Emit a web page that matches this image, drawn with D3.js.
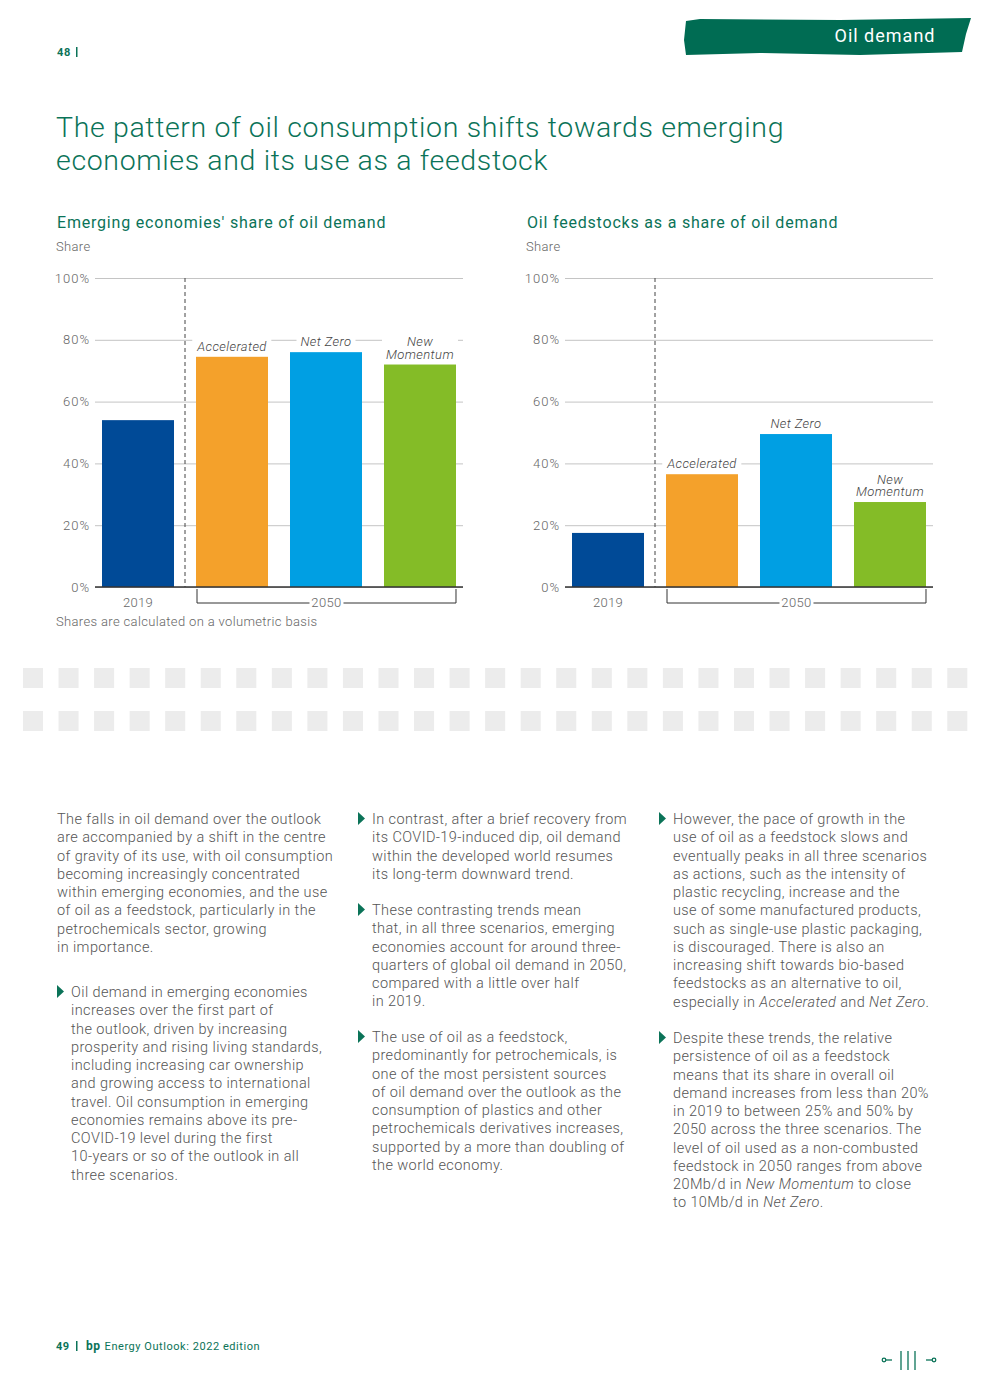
<!DOCTYPE html>
<html lang="en">
<head>
<meta charset="utf-8">
<title>Oil demand</title>
<script src="https://cdn.jsdelivr.net/npm/d3@7"></script>
<style>
  body { margin: 0; background: #fff; }
  svg { display: block; font-family: Roboto, "Open Sans", sans-serif; }
  .tick-label { font-size: 13px; fill: #666; font-weight: 300; letter-spacing: 0.35px; }
  .body-text { font-size: 14.5px; fill: #555; font-weight: 300; letter-spacing: 0.4px; }
</style>
</head>
<body>
<script>
// data
var categories = ["2019", "Accelerated", "Net Zero", "New Momentum"];
var emergingShare = [54, 74.5, 76, 72];
var feedstockShare = [17.5, 36.5, 49.5, 27.5];
var yTicks = [0, 20, 40, 60, 80, 100];
var barColors = ["#004a97", "#f4a12b", "#009fe3", "#84bc27"];
var scenarioLabels = [null, ["Accelerated"], ["Net Zero"], ["New", "Momentum"]];

var green = "#0b7358";
var W = 992, H = 1398;

var svg = d3.select("body").append("svg")
  .attr("width", W).attr("height", H);

// header tab
svg.append("path")
  .attr("d", "M686,21 L700,19 L840,20 L971,18 L966,34 L962,52 L860,55 L760,53 L686,55 L684,40 Z")
  .attr("fill", "#006c53");
svg.append("text").attr("x", 885).attr("y", 42).attr("text-anchor", "middle")
  .attr("fill", "#fff").style("font-size", "18px").style("letter-spacing", "1px").text("Oil demand");

svg.append("text").attr("x", 57).attr("y", 56).attr("fill", green)
  .style("font-size", "11px").style("font-weight", "bold").style("letter-spacing", "0.6px").text("48");
svg.append("rect").attr("x", 76).attr("y", 47).attr("width", 1.5).attr("height", 10).attr("fill", green);

// title
svg.append("text").attr("fill", green).style("font-size", "28.5px").style("font-weight", 300)
  .style("letter-spacing", "0.65px")
  .selectAll("tspan")
  .data(["The pattern of oil consumption shifts towards emerging", "economies and its use as a feedstock"])
  .enter().append("tspan")
  .attr("x", 56).attr("y", function (d, i) { return 137 + i * 33; })
  .text(function (d) { return d; });

// charts
function drawChart(ox, title, values, note) {
  var g = svg.append("g").attr("transform", "translate(" + ox + ",0)");
  var y = d3.scaleLinear().domain([0, 100]).range([587, 278]);
  var x = d3.scaleBand().domain(categories).range([95, 463])
    .paddingInner(0.234).paddingOuter(0.0745);

  g.append("text").attr("x", 57).attr("y", 228).attr("fill", green)
    .style("font-size", "16px").style("letter-spacing", "0.8px").text(title);
  g.append("text").attr("x", 56).attr("y", 251).attr("class", "tick-label").text("Share");

  var yAxis = d3.axisLeft(y).tickValues(yTicks)
    .tickFormat(function (d) { return d + "%"; })
    .tickSize(-368).tickPadding(5);
  var ax = g.append("g").attr("transform", "translate(95,0)").call(yAxis);
  ax.select(".domain").remove();
  ax.selectAll(".tick line").attr("stroke", "#c4c4c4").attr("stroke-width", 1);
  ax.selectAll(".tick text").attr("class", "tick-label").attr("fill", "#666")
    .style("font-family", "Roboto, sans-serif").style("letter-spacing", "1px");

  // dashed separator
  var sepX = (x("2019") + x.bandwidth() + x("Accelerated")) / 2;
  g.append("line").attr("x1", sepX).attr("x2", sepX).attr("y1", y(100)).attr("y2", y(0))
    .attr("stroke", "#444").attr("stroke-dasharray", "4,3").attr("stroke-width", 1);

  // scenario labels with white background
  var labels = g.append("g");
  g.selectAll(".bar").data(values).enter().append("rect")
    .attr("class", "bar")
    .attr("x", function (d, i) { return x(categories[i]); })
    .attr("y", function (d) { return y(d); })
    .attr("width", x.bandwidth())
    .attr("height", function (d) { return y(0) - y(d); })
    .attr("fill", function (d, i) { return barColors[i]; });

  values.forEach(function (v, i) {
    var lines = scenarioLabels[i];
    if (!lines) return;
    var cx = x(categories[i]) + x.bandwidth() / 2;
    var base = y(v) - 6;
    var t = labels.append("text").attr("text-anchor", "middle")
      .attr("fill", "#444").style("font-size", "13px").style("font-style", "italic")
      .style("font-weight", 300).style("letter-spacing", "0.4px");
    lines.forEach(function (l, j) {
      t.append("tspan").attr("x", cx)
        .attr("y", base - (lines.length - 1 - j) * 12.5).text(l);
    });
    var bb = t.node().getBBox();
    labels.insert("rect", "text").attr("x", bb.x - 4).attr("y", bb.y)
      .attr("width", bb.width + 8).attr("height", bb.height).attr("fill", "#fff");
  });

  // baseline
  g.append("line").attr("x1", 95).attr("x2", 463).attr("y1", y(0)).attr("y2", y(0))
    .attr("stroke", "#333").attr("stroke-width", 1.6);

  // x labels
  g.append("text").attr("class", "tick-label").attr("text-anchor", "middle")
    .attr("x", x("2019") + x.bandwidth() / 2).attr("y", 607).text("2019");
  var bx0 = x("Accelerated") + 1, bx1 = x("New Momentum") + x.bandwidth(), mid = (bx0 + bx1) / 2;
  g.append("path")
    .attr("d", "M" + bx0 + ",589V603H" + (mid - 17) + "M" + (mid + 17) + ",603H" + bx1 + "V589")
    .attr("fill", "none").attr("stroke", "#333").attr("stroke-width", 1);
  g.append("text").attr("class", "tick-label").attr("text-anchor", "middle")
    .attr("x", mid).attr("y", 607).text("2050");

  if (note) {
    g.append("text").attr("class", "tick-label").attr("x", 56).attr("y", 626).text(note);
  }
}

drawChart(0, "Emerging economies' share of oil demand", emergingShare, "Shares are calculated on a volumetric basis");
drawChart(470, "Oil feedstocks as a share of oil demand", feedstockShare, null);

// decorative squares
var sq = d3.range(27);
[668, 711].forEach(function (yy) {
  svg.append("g").selectAll("rect").data(sq).enter().append("rect")
    .attr("x", function (d) { return 23 + d * 35.55; }).attr("y", yy)
    .attr("width", 20).attr("height", 20).attr("fill", "#ececec");
});

// body text
var col1Intro = ["The falls in oil demand over the outlook", "are accompanied by a shift in the centre",
  "of gravity of its use, with oil consumption", "becoming increasingly concentrated",
  "within emerging economies, and the use", "of oil as a feedstock, particularly in the",
  "petrochemicals sector, growing", "in importance."];
var col1Bullet = ["Oil demand in emerging economies", "increases over the first part of",
  "the outlook, driven by increasing", "prosperity and rising living standards,",
  "including increasing car ownership", "and growing access to international",
  "travel. Oil consumption in emerging", "economies remains above its pre-",
  "COVID-19 level during the first", "10-years or so of the outlook in all", "three scenarios."];
var col2Bullet1 = ["In contrast, after a brief recovery from", "its COVID-19-induced dip, oil demand",
  "within the developed world resumes", "its long-term downward trend."];
var col2Bullet2 = ["These contrasting trends mean", "that, in all three scenarios, emerging",
  "economies account for around three-", "quarters of global oil demand in 2050,",
  "compared with a little over half", "in 2019."];
var col2Bullet3 = ["The use of oil as a feedstock,", "predominantly for petrochemicals, is",
  "one of the most persistent sources", "of oil demand over the outlook as the",
  "consumption of plastics and other", "petrochemicals derivatives increases,",
  "supported by a more than doubling of", "the world economy."];
var col3Bullet1 = ["However, the pace of growth in the", "use of oil as a feedstock slows and",
  "eventually peaks in all three scenarios", "as actions, such as the intensity of",
  "plastic recycling, increase and the", "use of some manufactured products,",
  "such as single-use plastic packaging,", "is discouraged. There is also an",
  "increasing shift towards bio-based", "feedstocks as an alternative to oil,",
  "especially in *Accelerated* and *Net Zero*."];
var col3Bullet2 = ["Despite these trends, the relative", "persistence of oil as a feedstock",
  "means that its share in overall oil", "demand increases from less than 20%",
  "in 2019 to between 25% and 50% by", "2050 across the three scenarios. The",
  "level of oil used as a non-combusted", "feedstock in 2050 ranges from above",
  "20Mb/d in *New Momentum* to close", "to 10Mb/d in *Net Zero*."];

function para(lines, x, y0, bullet) {
  var t = svg.append("text").attr("class", "body-text");
  lines.forEach(function (l, i) {
    var parts = l.split("*");
    parts.forEach(function (p, k) {
      var ts = t.append("tspan").text(p);
      if (k === 0) ts.attr("x", x).attr("y", y0 + i * 18.25);
      if (k % 2 === 1) ts.style("font-style", "italic");
    });
  });
  if (bullet) {
    svg.append("path")
      .attr("d", "M" + (x - 14) + "," + (y0 - 12) + "l7,6.5l-7,6.5z")
      .attr("fill", green);
  }
}

para(col1Intro, 57, 824, false);
para(col1Bullet, 71, 997, true);
para(col2Bullet1, 372, 824, true);
para(col2Bullet2, 372, 915, true);
para(col2Bullet3, 372, 1042, true);
para(col3Bullet1, 673, 824, true);
para(col3Bullet2, 673, 1043, true);

// footer
var foot = svg.append("text").attr("x", 56).attr("y", 1350).attr("fill", green)
  .style("font-size", "11px").style("letter-spacing", "0.55px");
foot.append("tspan").style("font-weight", "bold").text("49");
foot.append("tspan").attr("x", 86).style("font-weight", "bold").style("font-size", "12px").text("bp");
foot.append("tspan").attr("dx", 4).text("Energy Outlook: 2022 edition");
svg.append("rect").attr("x", 76).attr("y", 1341).attr("width", 1.5).attr("height", 10).attr("fill", green);

var nav = svg.append("g").attr("stroke", green).attr("fill", "none").attr("stroke-width", 1.3);
nav.append("line").attr("x1", 886).attr("x2", 892).attr("y1", 1360).attr("y2", 1360);
nav.append("circle").attr("cx", 884).attr("cy", 1360).attr("r", 1.8);
[901, 908, 915].forEach(function (xx) {
  nav.append("line").attr("x1", xx).attr("x2", xx).attr("y1", 1351).attr("y2", 1370);
});
nav.append("line").attr("x1", 926).attr("x2", 932).attr("y1", 1360).attr("y2", 1360);
nav.append("circle").attr("cx", 934).attr("cy", 1360).attr("r", 1.8);
</script>
</body>
</html>
